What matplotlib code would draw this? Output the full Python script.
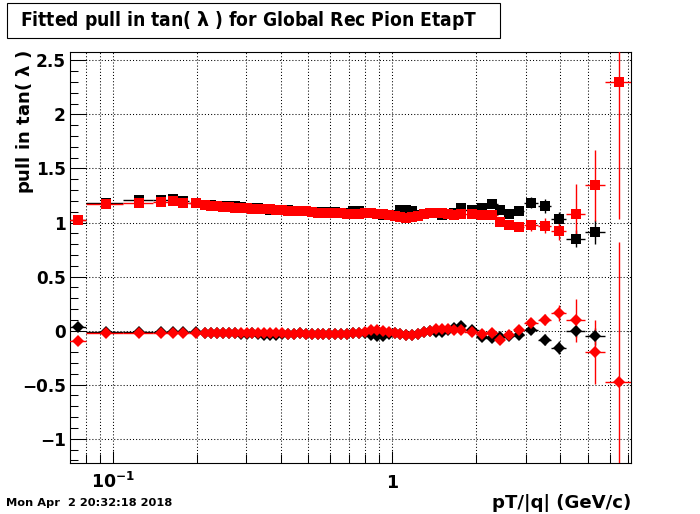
import matplotlib
matplotlib.use('Agg')
import matplotlib.pyplot as plt
import numpy as np
from matplotlib.patches import Rectangle
from matplotlib.ticker import FixedLocator, FixedFormatter, NullFormatter, MultipleLocator, LogLocator

plt.rcParams['font.family'] = ['DejaVu Sans']
plt.rcParams['font.weight'] = 'bold'
plt.rcParams['mathtext.fontset'] = 'dejavusans'

title = "Fitted pull in tan( $\\mathrm{\\lambda}$ ) for Global Rec Pion EtapT"
y_label = "pull in tan( $\\mathrm{\\lambda}$ )"
x_label = "pT/|q| (GeV/c)"
date_stamp = "Mon Apr  2 20:32:18 2018"

x_tick_values = [0.1, 1]
x_tick_labels = [r'$\mathbf{10^{-1}}$', '1']
y_tick_values = [-1, -0.5, 0, 0.5, 1, 1.5, 2, 2.5]
y_tick_labels = ["\u22121", "\u22120.5", "0", "0.5", "1", "1.5", "2", "2.5"]

bin_edges = [0.0700, 0.0800, 0.1090, 0.1390, 0.1590, 0.1690, 0.1870, 0.2090,
             0.219, 0.230, 0.242, 0.254, 0.267, 0.280, 0.294, 0.309, 0.324, 0.340,
             0.357, 0.375, 0.394, 0.414, 0.434, 0.456, 0.479, 0.503, 0.528, 0.554,
             0.582, 0.611, 0.641, 0.673, 0.707, 0.742, 0.779, 0.818, 0.859, 0.902,
             0.947, 0.995, 1.045, 1.097, 1.152, 1.210, 1.270, 1.334, 1.400, 1.470,
             1.544, 1.621, 1.702, 1.81,
             2.05, 2.15, 2.39, 2.49, 2.73, 2.97, 3.32, 3.70, 4.19, 4.88, 5.79, 7.20]

# width (sigma) of the pull distribution
sigma_black = [1.025, 1.178, 1.206, 1.206, 1.216, 1.195, 1.180,
               1.165, 1.158, 1.152, 1.150, 1.152, 1.150, 1.148, 1.135, 1.130, 1.132,
               1.128, 1.118, 1.115, 1.116, 1.113, 1.110, 1.108, 1.105, 1.100, 1.098,
               1.098, 1.097, 1.095, 1.092, 1.090, 1.105, 1.103, 1.090, 1.085, 1.078,
               1.072, 1.066, 1.070, 1.112, 1.116, 1.105, 1.065, 1.075, 1.088, 1.090,
               1.072, 1.075, 1.085, 1.130,
               1.120, 1.130, 1.167, 1.114, 1.083, 1.105, 1.185, 1.154, 1.037, 0.852, 0.913, np.nan]
sigma_black_err = [0.015, 0.010, 0.010, 0.010, 0.010, 0.010, 0.010,
                   0.006, 0.006, 0.006, 0.006, 0.006, 0.006, 0.006, 0.006, 0.006, 0.006,
                   0.006, 0.006, 0.006, 0.006, 0.006, 0.006, 0.006, 0.006, 0.006, 0.006,
                   0.006, 0.006, 0.006, 0.006, 0.007, 0.007, 0.007, 0.007, 0.007, 0.007,
                   0.007, 0.008, 0.008, 0.008, 0.008, 0.008, 0.009, 0.009, 0.009, 0.010,
                   0.010, 0.011, 0.011, 0.012,
                   0.020, 0.020, 0.025, 0.025, 0.030, 0.030, 0.050, 0.065, 0.060, 0.080, 0.110, np.nan]
sigma_red = [1.021, 1.169, 1.185, 1.188, 1.197, 1.182, 1.178,
             1.160, 1.155, 1.150, 1.145, 1.142, 1.138, 1.135, 1.130, 1.125, 1.122,
             1.122, 1.123, 1.118, 1.112, 1.107, 1.106, 1.107, 1.105, 1.098, 1.092,
             1.089, 1.089, 1.088, 1.087, 1.080, 1.077, 1.082, 1.089, 1.085, 1.078,
             1.076, 1.070, 1.062, 1.052, 1.046, 1.050, 1.062, 1.075, 1.085, 1.089,
             1.085, 1.078, 1.072, 1.075,
             1.075, 1.074, 1.074, 1.003, 0.975, 0.954, 0.975, 0.970, 0.919, 1.083, 1.345, 2.300]
sigma_red_err = [0.015, 0.010, 0.010, 0.010, 0.010, 0.010, 0.010,
                 0.006, 0.006, 0.006, 0.006, 0.006, 0.006, 0.006, 0.006, 0.006, 0.006,
                 0.006, 0.006, 0.006, 0.006, 0.006, 0.006, 0.006, 0.006, 0.006, 0.006,
                 0.006, 0.006, 0.006, 0.006, 0.007, 0.007, 0.007, 0.007, 0.007, 0.007,
                 0.007, 0.008, 0.008, 0.008, 0.008, 0.008, 0.009, 0.009, 0.009, 0.010,
                 0.010, 0.011, 0.011, 0.012,
                 0.020, 0.020, 0.020, 0.020, 0.025, 0.030, 0.050, 0.070, 0.080, 0.270, 0.330, 1.270]

# mean of the pull distribution
mean_black = [0.033, -0.010, -0.012, -0.015, -0.015, -0.012, -0.015,
              -0.020, -0.020, -0.022, -0.022, -0.025, -0.025, -0.028, -0.028, -0.025, -0.030,
              -0.040, -0.045, -0.040, -0.030, -0.030, -0.028, -0.025, -0.028, -0.030, -0.030,
              -0.032, -0.030, -0.035, -0.035, -0.030, -0.025, -0.020, -0.020, -0.040, -0.050,
              -0.050, -0.030, -0.020, -0.030, -0.040, -0.038, -0.030, -0.015, -0.005, -0.010,
              -0.010, 0.005, 0.020, 0.040,
              0.003, -0.060, -0.070, -0.060, -0.050, -0.044, 0.010, -0.083, -0.157, -0.006, -0.053, np.nan]
mean_black_err = [0.015, 0.008, 0.008, 0.008, 0.008, 0.008, 0.008,
                  0.005, 0.005, 0.005, 0.005, 0.005, 0.005, 0.005, 0.005, 0.005, 0.005,
                  0.005, 0.005, 0.005, 0.005, 0.005, 0.005, 0.005, 0.005, 0.005, 0.005,
                  0.005, 0.005, 0.005, 0.005, 0.006, 0.006, 0.006, 0.006, 0.006, 0.006,
                  0.006, 0.007, 0.007, 0.007, 0.007, 0.007, 0.008, 0.008, 0.008, 0.009,
                  0.009, 0.010, 0.010, 0.011,
                  0.020, 0.020, 0.020, 0.025, 0.025, 0.030, 0.040, 0.050, 0.060, 0.050, 0.080, np.nan]
mean_red = [-0.095, -0.020, -0.020, -0.018, -0.018, -0.018, -0.020,
            -0.018, -0.018, -0.020, -0.020, -0.022, -0.022, -0.025, -0.025, -0.022, -0.020,
            -0.018, -0.020, -0.022, -0.025, -0.028, -0.028, -0.025, -0.028, -0.030, -0.032,
            -0.030, -0.030, -0.035, -0.035, -0.032, -0.025, -0.020, -0.010, 0.002, 0.008,
            0.000, -0.010, -0.020, -0.030, -0.037, -0.038, -0.030, -0.015, 0.000, 0.012,
            0.018, 0.012, 0.008, 0.003,
            -0.010, -0.030, -0.020, -0.083, -0.044, 0.003, 0.074, 0.100, 0.163, 0.095, -0.198, -0.476]
mean_red_err = [0.015, 0.008, 0.008, 0.008, 0.008, 0.008, 0.008,
                0.005, 0.005, 0.005, 0.005, 0.005, 0.005, 0.005, 0.005, 0.005, 0.005,
                0.005, 0.005, 0.005, 0.005, 0.005, 0.005, 0.005, 0.005, 0.005, 0.005,
                0.005, 0.005, 0.005, 0.005, 0.006, 0.006, 0.006, 0.006, 0.006, 0.006,
                0.006, 0.007, 0.007, 0.007, 0.007, 0.007, 0.008, 0.008, 0.008, 0.009,
                0.009, 0.010, 0.010, 0.011,
                0.020, 0.020, 0.020, 0.025, 0.025, 0.030, 0.040, 0.050, 0.070, 0.200, 0.300, 1.300]

edges = np.array(bin_edges)
xc = 0.5 * (edges[:-1] + edges[1:])
xhw = 0.5 * (edges[1:] - edges[:-1])

W, H = 700, 514
fig = plt.figure(figsize=(W / 100, H / 100), dpi=100)
fig.patch.set_facecolor('white')

ax = fig.add_axes([70 / W, 1 - 462.5 / H, 561 / W, 410.8 / H])
ax.set_xscale('log')
ax.set_xlim(0.0704, 7.15)
ax.set_ylim(-1.22, 2.58)

sq_ms = 6.8
dm_ms = 6.3
elw = 1.0
for (vals, errs, col, mk, ms) in [
        (sigma_black, sigma_black_err, 'black', 's', sq_ms),
        (mean_black, mean_black_err, 'black', 'D', dm_ms),
        (sigma_red, sigma_red_err, 'red', 's', sq_ms),
        (mean_red, mean_red_err, 'red', 'D', dm_ms)]:
    ax.errorbar(xc, np.array(vals, dtype=float), yerr=np.array(errs, dtype=float),
                xerr=xhw, fmt=mk, color=col, ms=ms, mew=0, elinewidth=elw,
                capsize=0, zorder=3)

# ticks
ax.xaxis.set_major_locator(FixedLocator(x_tick_values))
ax.xaxis.set_major_formatter(FixedFormatter(x_tick_labels))
ax.xaxis.set_minor_locator(LogLocator(base=10, subs=np.arange(2, 10)))
ax.xaxis.set_minor_formatter(NullFormatter())
ax.yaxis.set_major_locator(FixedLocator(y_tick_values))
ax.yaxis.set_major_formatter(FixedFormatter(y_tick_labels))
ax.yaxis.set_minor_locator(MultipleLocator(0.1))

ax.tick_params(axis='both', which='both', direction='in', top=False, right=False,
               width=0.75, colors='black')
ax.tick_params(axis='y', which='major', length=11.5, pad=2.9, labelsize=12.2)
ax.tick_params(axis='y', which='minor', length=5.8)
ax.tick_params(axis='x', which='major', length=8.8, pad=18.5, labelsize=12.5)
ax.tick_params(axis='x', which='minor', length=6.2)
for lbl in ax.get_xticklabels():
    lbl.set_va('baseline')
    lbl.set_fontweight('bold')
for lbl in ax.get_yticklabels():
    lbl.set_fontweight('bold')

for s in ax.spines.values():
    s.set_linewidth(0.8)
    s.set_color('black')

ax.grid(True, which='both', axis='x', color='black', linestyle=(0, (1, 2)), linewidth=0.75)
ax.grid(True, which='major', axis='y', color='black', linestyle=(0, (1, 2)), linewidth=0.75)
ax.set_axisbelow(True)

renderer = fig.canvas.get_renderer()


def fit(t, size_px, use_height=False):
    bb = t.get_window_extent(renderer)
    cur = bb.height if use_height else bb.width
    t.set_fontsize(t.get_fontsize() * size_px / cur)


# title box
fig.patches.append(Rectangle((7 / W, 1 - 38.3 / H), 493 / W, 35.6 / H,
                             transform=fig.transFigure, facecolor='white',
                             edgecolor='black', linewidth=0.8))
t_title = fig.text(20 / W, 1 - 21 / H, title, ha='left', va='center',
                   fontsize=12, fontweight='bold', fontstretch='condensed')
fit(t_title, 458)

t_y = fig.text(25 / W, 1 - 50 / H, y_label, rotation=90, ha='center', va='top',
               fontsize=12, fontweight='bold')
fit(t_y, 144, use_height=True)

t_x = fig.text(631 / W, 1 - 503 / H, x_label, ha='right', va='center',
               fontsize=12, fontweight='bold')
fit(t_x, 140)

t_d = fig.text(6 / W, 1 - 503.5 / H, date_stamp, ha='left', va='center',
               fontsize=8, fontweight='bold')
fit(t_d, 166)

fig.savefig('out.png', dpi=100, facecolor='white')
